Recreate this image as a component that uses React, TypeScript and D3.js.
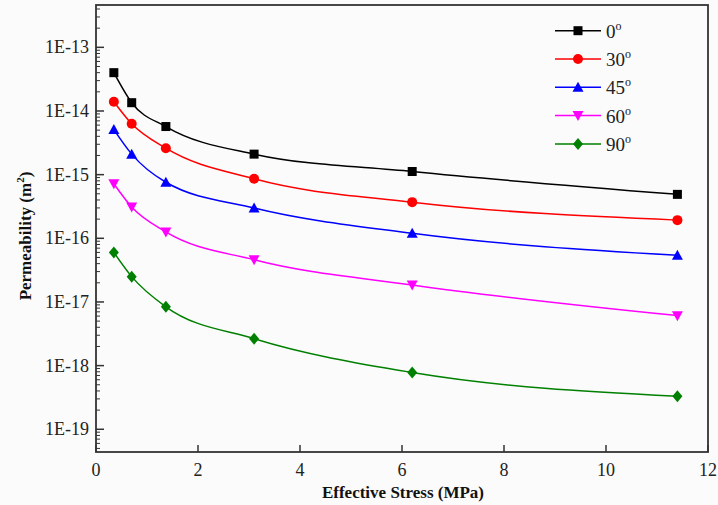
import React from "react";
import * as d3 from "d3";

const stress = [0.35, 0.7, 1.37, 3.1, 6.2, 11.4];
const angles = ["0", "30", "45", "60", "90"];
const colors = ["#000000", "#ff0000", "#0000ff", "#ff00ff", "#008000"];
const symbols = ["square", "circle", "triangle", "triangleDown", "diamond"];
const perm0 = [4.0e-14, 1.35e-14, 5.7e-15, 2.1e-15, 1.12e-15, 4.9e-16];
const perm30 = [1.4e-14, 6.3e-15, 2.6e-15, 8.6e-16, 3.7e-16, 1.93e-16];
const perm45 = [5.1e-15, 2.1e-15, 7.6e-16, 3.0e-16, 1.2e-16, 5.4e-17];
const perm60 = [7.2e-16, 3.1e-16, 1.26e-16, 4.6e-17, 1.85e-17, 6.1e-18];
const perm90 = [6.0e-17, 2.5e-17, 8.4e-18, 2.65e-18, 7.8e-19, 3.3e-19];
const series = [perm0, perm30, perm45, perm60, perm90];
const xTicks = [0, 2, 4, 6, 8, 10, 12];
const yTickExps = [-13, -14, -15, -16, -17, -18, -19];

const W = 718, H = 505;
const L = 96, R = 708, T = 5, B = 452;
const font = "Liberation Serif, Times New Roman, DejaVu Serif, serif";

function Marker({ type, x, y, color }: { type: string; x: number; y: number; color: string }) {
  const s = 4.5;
  if (type === "square") return <rect x={x - s} y={y - s} width={2 * s} height={2 * s} fill={color} />;
  if (type === "circle") return <circle cx={x} cy={y} r={s + 0.5} fill={color} />;
  if (type === "triangle")
    return <path d={`M${x},${y - s - 1} L${x + s + 1},${y + s} L${x - s - 1},${y + s} Z`} fill={color} />;
  if (type === "triangleDown")
    return <path d={`M${x},${y + s + 1} L${x + s + 1},${y - s} L${x - s - 1},${y - s} Z`} fill={color} />;
  return <path d={`M${x},${y - s - 1.5} L${x + s + 0.5},${y} L${x},${y + s + 1.5} L${x - s - 0.5},${y} Z`} fill={color} />;
}

export default function App() {
  const x = d3.scaleLinear().domain([0, 12]).range([L, R]);
  const y = d3.scaleLog().domain([Math.pow(10, -19.357), Math.pow(10, -12.335)]).range([B, T]);
  const line = d3
    .line<number>()
    .x((_, i) => x(stress[i]))
    .y((d) => y(d))
    .curve(d3.curveMonotoneX);

  const minorTicks: number[] = [];
  for (let e = -20; e <= -13; e++) {
    for (let m = 2; m <= 9; m++) {
      const v = m * Math.pow(10, e);
      if (v >= y.domain()[0] && v <= y.domain()[1]) minorTicks.push(v);
    }
  }

  const txt = { fontFamily: font };

  return (
    <svg width={W} height={H} style={{ position: "absolute", left: 0, top: 0, background: "#fbfbfb" }}>
      <rect x={0} y={0} width={W} height={H} fill="#fbfbfb" />
      {series.map((vals, si) => (
        <g key={si}>
          <path d={line(vals) || ""} fill="none" stroke={colors[si]} strokeWidth={1.5} />
          {vals.map((v, i) => (
            <Marker key={i} type={symbols[si]} x={x(stress[i])} y={y(v)} color={colors[si]} />
          ))}
        </g>
      ))}
      {yTickExps.map((e) => {
        const yy = y(Math.pow(10, e));
        return (
          <g key={e}>
            <line x1={L} x2={L + 8} y1={yy} y2={yy} stroke="#333" strokeWidth={1.5} />
            <text x={L - 7} y={yy + 6} textAnchor="end" style={txt} fontSize={18} fill="#222">
              {`1E${e}`}
            </text>
          </g>
        );
      })}
      {minorTicks.map((v, i) => (
        <line key={i} x1={L} x2={L + 4} y1={y(v)} y2={y(v)} stroke="#333" strokeWidth={1} />
      ))}
      {xTicks.map((t) => (
        <g key={t}>
          <line x1={x(t)} x2={x(t)} y1={B} y2={B - 7} stroke="#333" strokeWidth={1.5} />
          <text x={x(t)} y={B + 24} textAnchor="middle" style={txt} fontSize={18} fill="#222">
            {t}
          </text>
        </g>
      ))}
      <rect x={L} y={T} width={R - L} height={B - T} fill="none" stroke="#333" strokeWidth={1.8} />
      <text x={403} y={498} textAnchor="middle" style={txt} fontSize={17} fontWeight="bold" fill="#111">
        Effective Stress (MPa)
      </text>
      <text
        transform={`translate(31,236) rotate(-90)`}
        textAnchor="middle"
        style={txt}
        fontSize={17}
        fontWeight="bold"
        fill="#111"
      >
        Permeability (m<tspan dy={-7} fontSize={11}>2</tspan>
        <tspan dy={7}>)</tspan>
      </text>
      {angles.map((a, i) => {
        const ly = 30.7 + i * 28.3;
        return (
          <g key={a}>
            <line x1={555} x2={601} y1={ly} y2={ly} stroke={colors[i]} strokeWidth={1.5} />
            <Marker type={symbols[i]} x={578} y={ly} color={colors[i]} />
            <text x={606} y={ly + 7} style={txt} fontSize={19} fill="#222">
              {a}
              <tspan dy={-8} fontSize={12}>o</tspan>
            </text>
          </g>
        );
      })}
    </svg>
  );
}
